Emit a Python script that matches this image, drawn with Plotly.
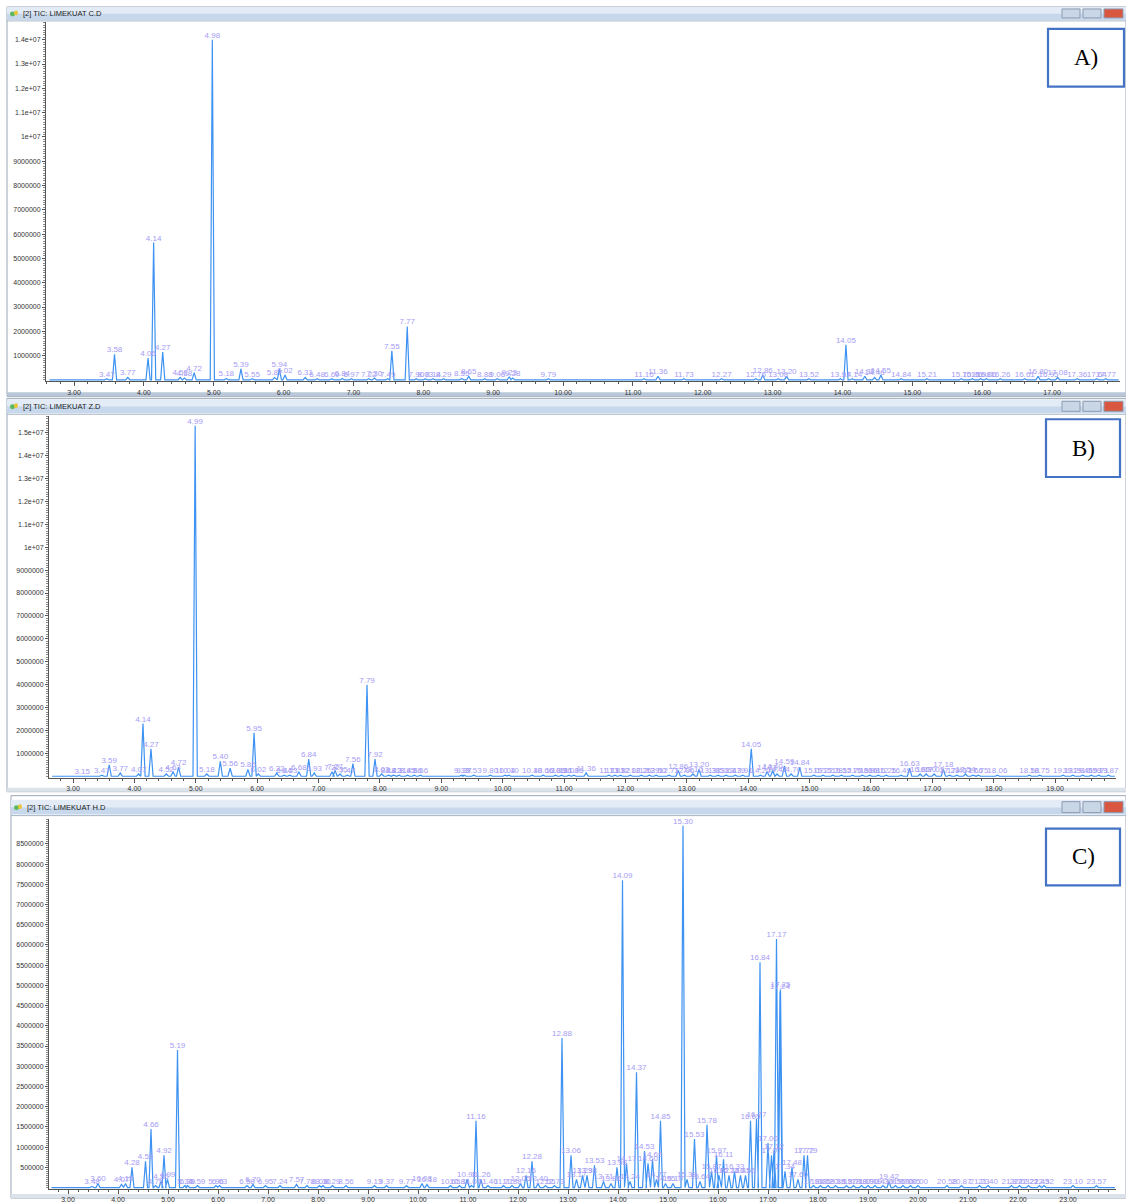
import plotly.graph_objects as go

W, H = 1126, 1203

# ---------------- DATA ----------------
a_times = [3.47, 3.58, 3.77, 4.06, 4.14, 4.27, 4.52, 4.58, 4.72, 4.98, 5.18, 5.39, 5.55, 5.87, 5.94, 6.02,
           6.31, 6.48, 6.69, 6.84, 6.97, 7.22, 7.30, 7.49, 7.55, 7.77, 7.90, 8.03, 8.14, 8.29, 8.55, 8.65,
           8.88, 9.06, 9.23, 9.28, 9.79, 11.16, 11.36, 11.73, 12.27, 12.76, 12.86, 13.08, 13.20, 13.52,
           13.97, 14.05, 14.14, 14.32, 14.46, 14.55, 14.84, 15.21, 15.70, 15.86, 15.98, 16.06, 16.26,
           16.61, 16.80, 16.95, 17.08, 17.36, 17.64, 17.77]
a_heights = [0.05e6, 1.05e6, 0.1e6, 0.9e6, 5.65e6, 1.15e6, 0.1e6, 0.08e6, 0.3e6, 14.0e6, 0.06e6, 0.45e6, 0.05e6, 0.1e6, 0.45e6, 0.2e6,
             0.1e6, 0.05e6, 0.05e6, 0.06e6, 0.05e6, 0.05e6, 0.08e6, 0.05e6, 1.2e6, 2.2e6, 0.05e6, 0.05e6, 0.05e6, 0.05e6, 0.06e6, 0.15e6,
             0.05e6, 0.05e6, 0.12e6, 0.08e6, 0.05e6, 0.05e6, 0.15e6, 0.05e6, 0.05e6, 0.05e6, 0.2e6, 0.05e6, 0.15e6, 0.05e6,
             0.05e6, 1.45e6, 0.05e6, 0.15e6, 0.1e6, 0.2e6, 0.05e6, 0.05e6, 0.05e6, 0.05e6, 0.05e6, 0.05e6, 0.05e6,
             0.05e6, 0.15e6, 0.05e6, 0.1e6, 0.05e6, 0.05e6, 0.05e6]

b_times = [3.15, 3.47, 3.59, 3.77, 4.07, 4.14, 4.27, 4.52, 4.63, 4.72, 4.99, 5.18, 5.40, 5.56, 5.85, 5.95, 6.02,
           6.32, 6.44, 6.53, 6.68, 6.84, 6.93, 7.22, 7.27, 7.35, 7.47, 7.56, 7.79, 7.92, 8.03, 8.14, 8.22,
           8.31, 8.45, 8.56, 8.66, 9.33, 9.37, 9.53, 9.80, 10.04, 10.10, 10.48, 10.66, 10.86, 10.96, 11.08,
           11.16, 11.36, 11.73, 11.83, 11.92, 12.08, 12.26, 12.39, 12.50, 12.71, 12.86, 12.96, 13.10, 13.20,
           13.38, 13.51, 13.64, 13.79, 13.91, 14.05, 14.20, 14.31, 14.40, 14.47, 14.59, 14.70, 14.84, 15.07,
           15.22, 15.38, 15.52, 15.70, 15.86, 15.98, 16.12, 16.25, 16.49, 16.63, 16.80, 16.90, 17.03, 17.18,
           17.28, 17.40, 17.54, 17.66, 17.75, 18.06, 18.58, 18.75, 19.13, 19.29, 19.45, 19.59, 19.71, 19.87]
b_heights = [0.03e6, 0.05e6, 0.5e6, 0.15e6, 0.1e6, 2.3e6, 1.2e6, 0.1e6, 0.2e6, 0.4e6, 15.3e6, 0.1e6, 0.65e6, 0.35e6, 0.3e6, 1.9e6, 0.1e6,
             0.15e6, 0.05e6, 0.05e6, 0.2e6, 0.75e6, 0.15e6, 0.2e6, 0.25e6, 0.1e6, 0.05e6, 0.55e6, 4.0e6, 0.75e6, 0.1e6, 0.05e6, 0.05e6,
             0.05e6, 0.05e6, 0.05e6, 0.05e6, 0.05e6, 0.05e6, 0.05e6, 0.05e6, 0.05e6, 0.05e6, 0.05e6, 0.05e6, 0.05e6, 0.05e6, 0.05e6,
             0.05e6, 0.15e6, 0.05e6, 0.05e6, 0.05e6, 0.05e6, 0.05e6, 0.05e6, 0.05e6, 0.05e6, 0.25e6, 0.05e6, 0.1e6, 0.3e6,
             0.05e6, 0.05e6, 0.05e6, 0.05e6, 0.05e6, 1.2e6, 0.05e6, 0.2e6, 0.25e6, 0.1e6, 0.45e6, 0.1e6, 0.4e6, 0.05e6,
             0.05e6, 0.05e6, 0.05e6, 0.05e6, 0.05e6, 0.05e6, 0.05e6, 0.05e6, 0.05e6, 0.35e6, 0.1e6, 0.1e6, 0.1e6, 0.3e6,
             0.05e6, 0.05e6, 0.1e6, 0.05e6, 0.05e6, 0.05e6, 0.05e6, 0.05e6, 0.05e6, 0.05e6, 0.05e6, 0.05e6, 0.05e6, 0.05e6]

c_times = [3.48, 3.60, 4.07, 4.15, 4.28, 4.55, 4.66, 4.75, 4.86, 4.92, 4.99, 5.19, 5.34, 5.39, 5.59, 5.96, 6.03,
           6.58, 6.70, 6.95, 7.24, 7.57, 7.78, 8.03, 8.10, 8.29, 8.56, 9.13, 9.37, 9.77, 10.08, 10.18, 10.65,
           10.83, 10.98, 11.07, 11.16, 11.26, 11.40, 11.71, 11.88, 12.05, 12.16, 12.28, 12.40, 12.55, 12.73,
           12.88, 13.06, 13.17, 13.29, 13.38, 13.53, 13.71, 13.86, 13.98, 14.09, 14.17, 14.24, 14.37, 14.53,
           14.60, 14.69, 14.77, 14.85, 14.95, 15.10, 15.30, 15.38, 15.53, 15.64, 15.78, 15.87, 15.97, 16.02,
           16.11, 16.22, 16.33, 16.45, 16.55, 16.65, 16.77, 16.84, 17.00, 17.07, 17.12, 17.17, 17.24, 17.25,
           17.34, 17.48, 17.60, 17.72, 17.79, 17.91, 18.05, 18.20, 18.35, 18.57, 18.71, 18.87, 19.00, 19.14,
           19.30, 19.42, 19.55, 19.70, 19.85, 20.00, 20.58, 20.87, 21.23, 21.40, 21.87, 22.03, 22.21, 22.43,
           22.52, 23.10, 23.57]
c_heights = [0.03e6, 0.1e6, 0.08e6, 0.1e6, 0.5e6, 0.65e6, 1.45e6, 0.05e6, 0.15e6, 0.8e6, 0.2e6, 3.4e6, 0.05e6, 0.05e6, 0.05e6, 0.05e6, 0.05e6,
             0.05e6, 0.08e6, 0.05e6, 0.05e6, 0.08e6, 0.05e6, 0.05e6, 0.05e6, 0.05e6, 0.05e6, 0.05e6, 0.05e6, 0.05e6, 0.1e6, 0.08e6, 0.05e6,
             0.05e6, 0.2e6, 0.05e6, 1.65e6, 0.2e6, 0.05e6, 0.05e6, 0.05e6, 0.1e6, 0.3e6, 0.65e6, 0.1e6, 0.05e6, 0.05e6,
             3.7e6, 0.8e6, 0.2e6, 0.3e6, 0.3e6, 0.55e6, 0.15e6, 0.1e6, 0.5e6, 7.6e6, 0.6e6, 0.15e6, 2.85e6, 0.9e6,
             0.6e6, 0.7e6, 0.2e6, 1.65e6, 0.1e6, 0.1e6, 8.95e6, 0.2e6, 1.2e6, 0.15e6, 1.55e6, 0.4e6, 0.8e6, 0.3e6,
             0.7e6, 0.3e6, 0.4e6, 0.3e6, 0.3e6, 1.65e6, 1.7e6, 5.57e6, 1.1e6, 0.8e6, 0.9e6, 6.15e6, 4.85e6, 4.9e6,
             0.4e6, 0.5e6, 0.2e6, 0.8e6, 0.8e6, 0.05e6, 0.05e6, 0.05e6, 0.05e6, 0.05e6, 0.05e6, 0.05e6, 0.05e6, 0.05e6,
             0.05e6, 0.15e6, 0.05e6, 0.05e6, 0.05e6, 0.05e6, 0.05e6, 0.05e6, 0.05e6, 0.05e6, 0.05e6, 0.05e6, 0.05e6, 0.05e6,
             0.05e6, 0.05e6, 0.05e6]

a_ytick_vals = [1e6, 2e6, 3e6, 4e6, 5e6, 6e6, 7e6, 8e6, 9e6, 10e6, 11e6, 12e6, 13e6, 14e6]
a_ytick_text = ["1000000", "2000000", "3000000", "4000000", "5000000", "6000000", "7000000", "8000000",
                "9000000", "1e+07", "1.1e+07", "1.2e+07", "1.3e+07", "1.4e+07"]
b_ytick_vals = [1e6, 2e6, 3e6, 4e6, 5e6, 6e6, 7e6, 8e6, 9e6, 10e6, 11e6, 12e6, 13e6, 14e6, 15e6]
b_ytick_text = ["1000000", "2000000", "3000000", "4000000", "5000000", "6000000", "7000000", "8000000",
                "9000000", "1e+07", "1.1e+07", "1.2e+07", "1.3e+07", "1.4e+07", "1.5e+07"]
c_ytick_vals = [0.5e6, 1e6, 1.5e6, 2e6, 2.5e6, 3e6, 3.5e6, 4e6, 4.5e6, 5e6, 5.5e6, 6e6, 6.5e6, 7e6, 7.5e6, 8e6, 8.5e6]
c_ytick_text = ["500000", "1000000", "1500000", "2000000", "2500000", "3000000", "3500000", "4000000",
                "4500000", "5000000", "5500000", "6000000", "6500000", "7000000", "7500000", "8000000", "8500000"]

titles = ["[2] TIC: LIMEKUAT C.D", "[2] TIC: LIMEKUAT Z.D", "[2] TIC: LIMEKUAT H.D"]
panel_labels = ["A)", "B)", "C)"]

# ---------------- LAYOUT GEOMETRY (pixels) ----------------
panels = [
    dict(times=a_times, heights=a_heights, yv=a_ytick_vals, yt=a_ytick_text,
         axl=46, axr=1120, top=22, bot=383, zero=381.5, ppu=24.4, x3=74, ppm=69.86, w=0.03,
         win=(7, 1126, 7, 398), tb=(7, 20), box=(1048, 1124, 29, 87), minor_y=1e5),
    dict(times=b_times, heights=b_heights, yv=b_ytick_vals, yt=b_ytick_text,
         axl=49, axr=1116, top=418, bot=781, zero=779.5, ppu=23.0, x3=73, ppm=61.38, w=0.035,
         win=(7, 1126, 400, 795), tb=(401, 415), box=(1046, 1120, 421, 479), minor_y=1e5),
    dict(times=c_times, heights=c_heights, yv=c_ytick_vals, yt=c_ytick_text,
         axl=49, axr=1116, top=822, bot=1194, zero=1192.5, ppu=40.6, x3=68, ppm=50.0, w=0.04,
         win=(11, 1126, 799, 1203), tb=(803, 818), box=(1046, 1120, 832, 889), minor_y=5e4),
]

def fx(p):
    return p / W

def fy(p):
    return 1 - p / H

fig = go.Figure()
shapes = []
annotations = []
layout_axes = {}

line_col = "#3d92f2"
lab_col = "#a59cf5"
axis_col = "#555555"

for i, P in enumerate(panels):
    n = "" if i == 0 else str(i + 1)
    xa, ya = "x" + n, "y" + n
    # window chrome
    wx0, wx1, wy0, wy1 = P["win"]
    shapes.append(dict(type="rect", xref="paper", yref="paper", x0=fx(wx0), x1=fx(wx1), y0=fy(wy1), y1=fy(wy0),
                       line=dict(color="#9aa6b4", width=1), fillcolor="white", layer="below"))
    t0, t1 = P["tb"]
    mid = (t0 + t1) / 2
    shapes.append(dict(type="rect", xref="paper", yref="paper", x0=fx(wx0), x1=fx(wx1), y0=fy(mid), y1=fy(t0),
                       line=dict(width=0), fillcolor="#e2ebf6", layer="below"))
    shapes.append(dict(type="rect", xref="paper", yref="paper", x0=fx(wx0), x1=fx(wx1), y0=fy(t1), y1=fy(mid),
                       line=dict(width=0), fillcolor="#c8d8ec", layer="below"))
    shapes.append(dict(type="line", xref="paper", yref="paper", x0=fx(wx0), x1=fx(wx1), y0=fy(t1 + 1), y1=fy(t1 + 1),
                       line=dict(color="#a9b6c6", width=1)))
    # bottom frame strip
    shapes.append(dict(type="rect", xref="paper", yref="paper", x0=fx(wx0), x1=fx(wx1), y0=fy(wy1), y1=fy(wy1 - 4),
                       line=dict(width=0), fillcolor="#b9c7d8" if i == 0 else "#dde3ea", layer="below"))
    # icon
    shapes.append(dict(type="circle", xref="paper", yref="paper", x0=fx(wx0 + 3), x1=fx(wx0 + 8), y0=fy(mid + 3), y1=fy(mid - 2),
                       line=dict(width=0), fillcolor="#5cb85c"))
    shapes.append(dict(type="circle", xref="paper", yref="paper", x0=fx(wx0 + 7), x1=fx(wx0 + 11), y0=fy(mid + 2), y1=fy(mid - 3),
                       line=dict(width=0), fillcolor="#e8c53a"))
    annotations.append(dict(xref="paper", yref="paper", x=fx(wx0 + 14), y=fy(mid), xanchor="left", yanchor="middle",
                            text=titles[i], showarrow=False, font=dict(family="Liberation Sans", size=7.5, color="#1a1a1a")))
    # window buttons
    for bx0, bx1, col in [(1062, 1080, "#c9d6e6"), (1083, 1101, "#c9d6e6"), (1104, 1123, "#d9573f")]:
        shapes.append(dict(type="rect", xref="paper", yref="paper", x0=fx(bx0), x1=fx(bx1), y0=fy(t1 - 2), y1=fy(t0 + 2),
                           line=dict(color="#8d9bb0", width=1), fillcolor=col))
    # label box
    bx0, bx1, by0, by1 = P["box"]
    shapes.append(dict(type="rect", xref="paper", yref="paper", x0=fx(bx0), x1=fx(bx1), y0=fy(by1), y1=fy(by0),
                       line=dict(color="#4472c4", width=2.2), fillcolor="white"))
    annotations.append(dict(xref="paper", yref="paper", x=fx((bx0 + bx1) / 2), y=fy((by0 + by1) / 2),
                            xanchor="center", yanchor="middle", text=panel_labels[i], showarrow=False,
                            font=dict(family="Liberation Serif", size=23, color="black")))

    # axis ranges from pixel calibration
    xmin = 3 - (P["x3"] - P["axl"]) / P["ppm"]
    xmax = 3 + (P["axr"] - P["x3"]) / P["ppm"]
    ymin = -(P["bot"] - P["zero"]) / P["ppu"] * 1e6
    ymax = (P["zero"] - P["top"]) / P["ppu"] * 1e6

    # trace built from peak list
    pairs = sorted(zip(P["times"], P["heights"]))
    xs, ys = [xmin + 0.05], [0]
    for t, h in pairs:
        xs += [t - P["w"], t, t + P["w"]]
        ys += [0, h, 0]
    xs.append(xmax - 0.02)
    ys.append(0)
    fig.add_trace(go.Scatter(x=xs, y=ys, mode="lines", line=dict(color=line_col, width=1.2),
                             xaxis=xa, yaxis=ya, hoverinfo="skip", showlegend=False))
    fig.add_trace(go.Scatter(x=P["times"], y=P["heights"], mode="text",
                             text=[f"{t:.2f}" for t in P["times"]], textposition="top center",
                             textfont=dict(family="Liberation Sans", size=8, color=lab_col),
                             xaxis=xa, yaxis=ya, hoverinfo="skip", showlegend=False, cliponaxis=False))

    layout_axes["xaxis" + n] = dict(domain=[fx(P["axl"]), fx(P["axr"])], anchor=ya, range=[xmin, xmax],
                                    tick0=3, dtick=1, tickformat=".2f", ticks="outside", ticklen=4,
                                    tickcolor=axis_col, showline=True, linecolor=axis_col, linewidth=1,
                                    showgrid=False, zeroline=False,
                                    tickfont=dict(family="Liberation Sans", size=7, color="#333333"),
                                    minor=dict(ticks="outside", ticklen=2, dtick=0.2, tick0=3, tickcolor=axis_col, showgrid=False))
    layout_axes["yaxis" + n] = dict(domain=[fy(P["bot"]), fy(P["top"])], anchor=xa, range=[ymin, ymax],
                                    tickmode="array", tickvals=P["yv"], ticktext=P["yt"],
                                    ticks="outside", ticklen=3, tickcolor=axis_col,
                                    showline=True, linecolor=axis_col, linewidth=1,
                                    showgrid=False, zeroline=False,
                                    tickfont=dict(family="Liberation Sans", size=7, color="#333333"),
                                    minor=dict(ticks="outside", ticklen=2, dtick=P["minor_y"], tickcolor="#888888", showgrid=False))

fig.update_layout(width=W, height=H, margin=dict(l=0, r=0, t=0, b=0),
                  paper_bgcolor="white", plot_bgcolor="rgba(0,0,0,0)",
                  shapes=shapes, annotations=annotations, **layout_axes)

fig.write_html("out.html", config={"displayModeBar": False},
               post_script="document.body.style.margin='0';document.body.style.overflow='hidden';")
